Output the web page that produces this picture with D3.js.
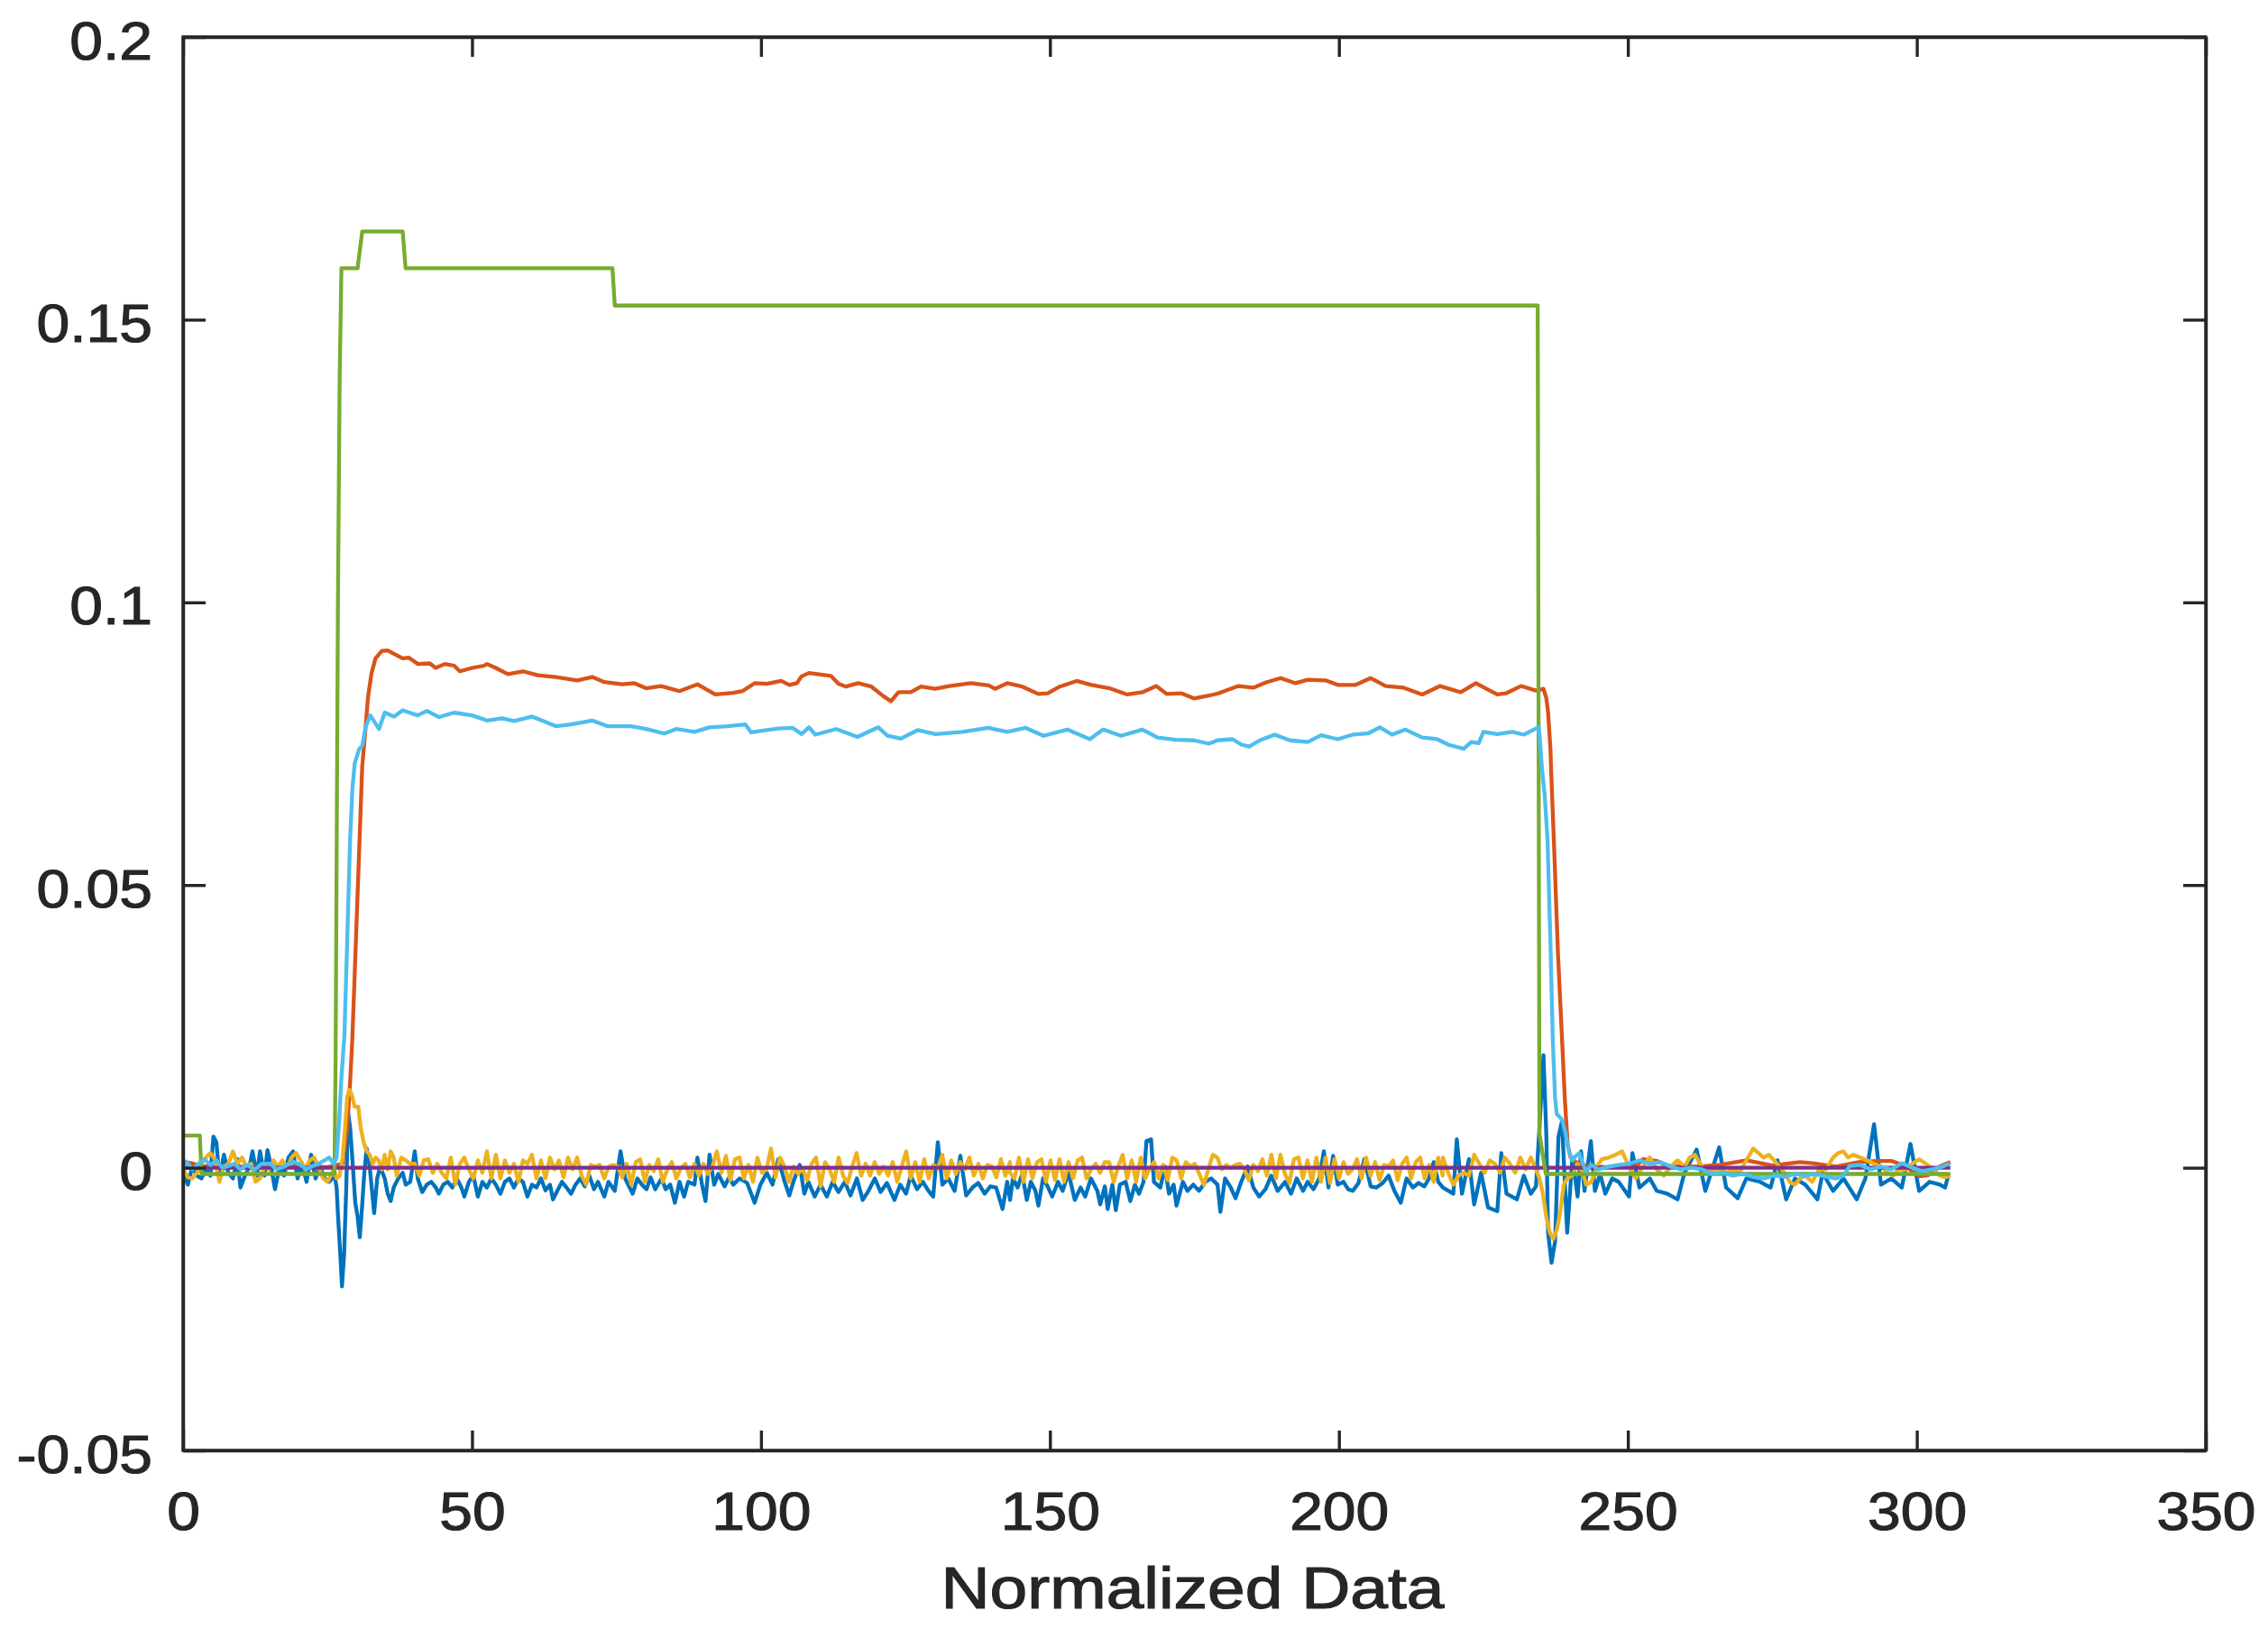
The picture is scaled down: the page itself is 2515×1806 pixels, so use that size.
<!DOCTYPE html>
<html>
<head>
<meta charset="utf-8">
<script src="https://cdn.jsdelivr.net/npm/d3@7"></script>
<style>
  html, body { margin: 0; padding: 0; background: #ffffff; }
  svg { display: block; }
</style>
</head>
<body>
<div id="chart"></div>
<script>
// ---------------- DATA ----------------
const xTicks = [0, 50, 100, 150, 200, 250, 300, 350];
const xTickLabels = ["0", "50", "100", "150", "200", "250", "300", "350"];
const yTicks = [-0.05, 0, 0.05, 0.1, 0.15, 0.2];
const yTickLabels = ["-0.05", "0", "0.05", "0.1", "0.15", "0.2"];
const xLabel = "Normalized Data";

// series 1 (blue) : [x, value]
const blueEarly = [[0.05,-0.0009],[0.83,-0.0030],[1.61,0.0002],[2.39,-0.0014],[3.17,-0.0019],[3.95,-0.0003],[4.73,-0.0014],[5.25,0.0055],[5.77,0.0045],[6.29,-0.0019],[7.07,0.0023],[7.85,-0.0009],[8.63,-0.0019],[9.41,0.0015],[9.93,-0.0035],[10.71,-0.0014],[11.49,0.0002],[12.01,0.0029],[12.79,-0.0014],[13.31,0.0029],[14.09,-0.0014],[14.61,0.0031],[15.13,0.0007],[15.91,-0.0038],[16.69,0.0002],[17.47,-0.0014],[18.25,0.0018],[19.03,0.0029],[19.81,-0.0019],[20.59,0.0007],[21.37,-0.0025],[22.15,0.0023],[22.93,-0.0019],[23.71,0.0002],[24.49,-0.0019],[25.27,-0.0025],[25.79,-0.0019],[26.31,-0.0019],[26.57,-0.0035],[26.83,-0.0088],[27.2,-0.0152],[27.5,-0.0210],[27.87,-0.0152],[28.24,-0.0035],[28.55,0.0098],[28.91,0.0071],[29.28,0.0018],[29.80,-0.0062],[30.22,-0.0088],[30.58,-0.0123],[30.99,-0.0067],[31.36,-0.0009],[31.77,0.0034],[32.29,0.0002],[33.07,-0.0080],[33.59,-0.0019],[34.11,0.0002],[34.89,-0.0019],[35.41,-0.0046],[35.93,-0.0059],[36.45,-0.0035],[37.23,-0.0019],[38.01,-0.0009],[38.53,-0.0030],[39.31,-0.0025],[40.09,0.0029],[40.61,-0.0019],[41.39,-0.0043],[42.17,-0.0030],[42.95,-0.0025],[43.73,-0.0035],[44.25,-0.0046],[45.03,-0.0030],[45.81,-0.0025],[46.59,-0.0035],[47.37,-0.0019],[48.15,-0.0035],[48.67,-0.0051],[49.45,-0.0025],[50.23,-0.0014],[51.01,-0.0051],[51.79,-0.0025],[52.57,-0.0035],[53.35,-0.0019],[54.13,-0.0030],[54.91,-0.0046],[55.69,-0.0025],[56.47,-0.0019],[57.25,-0.0035],[58.03,-0.0019],[58.81,-0.0025],[59.59,-0.0051],[60.37,-0.0030],[61.15,-0.0035],[61.93,-0.0019],[62.71,-0.0040],[63.49,-0.0030],[64.01,-0.0056],[64.79,-0.0040],[65.57,-0.0025],[66.35,-0.0035],[67.13,-0.0046],[67.91,-0.0030]];
const blueMid1 = [[68.7,-0.0019],[69.5,-0.0033],[70.3,-0.0014],[71.1,-0.0038],[71.8,-0.0025],[72.9,-0.0051],[73.6,-0.0025],[74.7,-0.0041],[75.7,0.0029],[76.5,-0.0019],[77.8,-0.0046],[78.6,-0.0019],[79.4,-0.0030],[80.2,-0.0038],[80.9,-0.0017],[81.7,-0.0038],[82.8,-0.0019],[83.5,-0.0038],[84.3,-0.0030],[85.1,-0.0062],[85.9,-0.0025],[86.7,-0.0051],[87.4,-0.0025],[88.5,-0.0030],[89.0,0.0018],[89.8,-0.0030],[90.4,-0.0059],[91.1,0.0023],[91.9,-0.0030],[92.6,-0.0011],[93.7,-0.0033],[94.5,-0.0017],[95.2,-0.0030],[96.3,-0.0019],[97.6,-0.0027],[98.9,-0.0062],[99.9,-0.0030],[101.0,-0.0009],[102.0,-0.0030],[103.0,0.0015],[104.1,-0.0025],[104.9,-0.0049],[105.6,-0.0025],[106.7,0.0005],[107.5,-0.0046],[108.2,-0.0025],[109.3,-0.0051],[110.3,-0.0030],[111.4,-0.0051],[112.4,-0.0025],[113.4,-0.0043],[114.5,-0.0025],[115.5,-0.0049],[116.6,-0.0019],[117.6,-0.0057],[118.6,-0.0041],[119.7,-0.0019],[120.7,-0.0043],[121.8,-0.0027],[123.1,-0.0057],[124.1,-0.0030],[125.1,-0.0046],[125.9,-0.0014],[127.0,-0.0038],[128.0,-0.0025],[129.0,-0.0041],[129.8,-0.0051],[130.6,0.0045],[131.4,-0.0030],[132.4,-0.0019],[133.5,-0.0041],[134.5,0.0021],[135.5,-0.0049],[136.6,-0.0035],[137.6,-0.0027],[138.7,-0.0046],[139.7,-0.0033],[140.7,-0.0035],[141.8,-0.0073],[142.6,-0.0025],[143.1,-0.0057]];
const blueMid2 = [[143.6,-0.0019],[144.4,-0.0035],[145.2,-0.0011],[146.0,-0.0057],[146.7,-0.0025],[147.5,-0.0041],[148.0,-0.0067],[148.8,-0.0019],[149.6,-0.0033],[150.4,-0.0051],[151.4,-0.0025],[152.2,-0.0041],[153.2,-0.0009],[154.3,-0.0057],[155.3,-0.0035],[156.1,-0.0051],[157.1,-0.0019],[158.2,-0.0041],[158.7,-0.0065],[159.5,-0.0033],[160.0,-0.0073],[160.8,-0.0030],[161.4,-0.0075],[162.1,-0.0030],[163.1,-0.0025],[163.9,-0.0059],[164.7,-0.0030],[165.4,-0.0046],[166.2,-0.0025],[166.7,0.0047],[167.5,0.0050],[168.0,-0.0025],[169.1,-0.0035],[169.9,0.0002],[170.6,-0.0046],[171.4,-0.0030],[171.9,-0.0067],[173.0,-0.0025],[173.8,-0.0041],[174.8,-0.0030],[175.8,-0.0041],[176.9,-0.0025],[177.9,-0.0019],[179.0,-0.0030],[179.5,-0.0078],[180.3,-0.0019],[181.3,-0.0035],[182.1,-0.0054],[183.1,-0.0025],[184.2,0.0002],[185.2,-0.0035],[186.2,-0.0051],[187.3,-0.0038],[188.3,-0.0014],[189.4,-0.0041],[190.7,-0.0025],[191.7,-0.0046],[192.7,-0.0019],[193.8,-0.0041],[194.6,-0.0025],[195.6,-0.0038],[196.6,-0.0019],[197.4,0.0029],[198.2,-0.0035],[199.0,0.0021],[199.8,-0.0030],[200.8,-0.0025],[201.6,-0.0038],[202.4,-0.0041],[203.4,-0.0027],[204.4,0.0015],[205.5,-0.0033],[206.5,-0.0035],[207.6,-0.0027],[208.6,-0.0014],[209.6,-0.0041],[210.7,-0.0062],[211.7,-0.0019],[212.8,-0.0035],[213.8,-0.0027],[214.8,-0.0033],[215.6,-0.0019],[216.4,0.0010],[217.2,-0.0025]];
const blueLate = [[218.0,-0.0035],[219.8,-0.0046],[220.4,0.0050],[221.3,-0.0046],[222.5,0.0015],[223.4,-0.0065],[224.6,-0.0009],[225.8,-0.0070],[227.4,-0.0077],[228.1,0.0026],[229.0,-0.0046],[230.8,-0.0056],[232.0,-0.0014],[233.2,-0.0046],[234.1,-0.0033],[234.7,0.0071],[235.4,0.0199],[235.9,0.0055],[236.2,-0.0115],[236.8,-0.0168],[237.4,-0.0131],[238.0,0.0055],[238.6,0.0082],[239.5,-0.0115],[240.4,0.0018],[241.3,-0.0051],[241.9,0.0029],[242.5,-0.0041],[243.6,0.0047],[244.3,-0.0041],[245.2,-0.0011],[246.1,-0.0046],[247.3,-0.0019],[248.4,-0.0025],[250.2,-0.0051],[250.8,0.0026],[252.0,-0.0035],[253.8,-0.0019],[255.0,-0.0041],[256.8,-0.0046],[258.6,-0.0056],[259.8,-0.0009],[261.9,0.0032],[263.4,-0.0041],[265.8,0.0036],[267.0,-0.0035],[269.0,-0.0054],[270.5,-0.0019],[272.9,-0.0025],[274.7,-0.0035],[275.9,0.0013],[277.4,-0.0056],[278.9,-0.0019],[280.7,-0.0030],[282.8,-0.0056],[283.7,-0.0009],[285.5,-0.0041],[287.3,-0.0019],[289.6,-0.0056],[291.1,-0.0019],[292.6,0.0077],[293.8,-0.0030],[295.6,-0.0019],[297.4,-0.0035],[298.9,0.0042],[300.4,-0.0041],[302.2,-0.0025],[304.0,-0.0030],[304.9,-0.0035],[305.5,-0.0011]];

// series 2 (orange)
const orangePts = [[0,0.0010],[1.5,0.0008],[3,0.0003],[6,0.0001],[10,0.0002],[15,0.0001],[20,0.0002],[25,0.0001],[27.6,0.0007],[28.4,0.007],[28.9,0.015],[29.3,0.023],[31.0,0.071],[31.5,0.0768],[32.0,0.0832],[32.6,0.0874],[33.3,0.0901],[34.4,0.0914],[35.4,0.0915],[36.5,0.0909],[38.0,0.0901],[39.1,0.0902],[40.6,0.0891],[42.7,0.0892],[43.7,0.0884],[45.3,0.0891],[46.9,0.0888],[47.9,0.0878],[50.0,0.0884],[52.1,0.0888],[52.6,0.0891],[54.1,0.0884],[56.2,0.0873],[58.8,0.0878],[61.4,0.0871],[64.5,0.0868],[68.2,0.0862],[70.8,0.0868],[72.9,0.0859],[76.0,0.0855],[78.1,0.0857],[80.1,0.0848],[82.7,0.0852],[85.9,0.0843],[89.0,0.0855],[92.1,0.0837],[95.2,0.0840],[96.8,0.0843],[98.9,0.0857],[101.0,0.0856],[103.5,0.0861],[104.9,0.0854],[106.2,0.0857],[107.0,0.0869],[108.3,0.0875],[112.1,0.0870],[113.4,0.0856],[114.7,0.0851],[116.8,0.0857],[119.1,0.0851],[121.2,0.0834],[122.5,0.0825],[123.8,0.0841],[125.9,0.0841],[127.7,0.0851],[130.1,0.0847],[132.6,0.0852],[136.3,0.0857],[139.4,0.0853],[140.5,0.0847],[142.6,0.0857],[145.2,0.0851],[148.0,0.0838],[149.6,0.0839],[151.7,0.0851],[154.6,0.0861],[157.2,0.0854],[160.3,0.0848],[163.4,0.0837],[166.0,0.0841],[168.4,0.0852],[170.2,0.0838],[172.8,0.0839],[174.9,0.0830],[177.5,0.0835],[179.1,0.0839],[182.6,0.0852],[185.2,0.0849],[187.3,0.0858],[189.9,0.0866],[192.5,0.0857],[194.6,0.0863],[197.7,0.0862],[199.8,0.0854],[202.9,0.0854],[205.5,0.0866],[208.1,0.0852],[211.2,0.0849],[214.4,0.0837],[217.5,0.0852],[221.1,0.0841],[223.7,0.0857],[227.4,0.0837],[228.9,0.0839],[231.5,0.0852],[234.1,0.0844],[235.4,0.0847],[235.9,0.0830],[236.2,0.0805],[236.6,0.0741],[236.7,0.071],[237.3,0.055],[237.9,0.038],[238.6,0.023],[239.1,0.012],[239.6,0.004],[240.1,0.0018],[241,0.0010],[243,0.0003],[246,0.0001],[251.4,0.0002],[252.6,0.0015],[255.0,0.0012],[257,0.0003],[262,0.0002],[266,0.0005],[270.5,0.0013],[275,0.0004],[279.8,0.0010],[282,0.0008],[286,0.0002],[290,0.0010],[293,0.0012],[295.6,0.0012],[298,0.0003],[300.4,-0.0015],[302,-0.0013],[304,0.0002],[305.8,0.0010]];

// series 3 (yellow)
const yellowEarly = [[0.05,-0.0003],[0.83,-0.0017],[1.61,-0.0019],[2.39,-0.0009],[3.17,0.0007],[3.95,0.0018],[4.73,0.0026],[5.51,0.0015],[6.29,-0.0025],[7.07,0.0002],[7.85,0.0007],[8.63,0.0029],[9.41,0.0007],[10.19,0.0018],[10.97,0.0002],[11.75,0.0007],[12.53,-0.0025],[13.31,-0.0019],[14.09,0.0002],[14.87,-0.0003],[15.65,0.0013],[16.43,0.0002],[17.21,0.0013],[17.99,-0.0001],[18.77,0.0018],[19.55,0.0026],[20.33,0.0013],[21.11,-0.0003],[21.89,0.0013],[22.67,0.0018],[23.45,0.0002],[24.23,-0.0019],[25.01,-0.0025],[25.53,-0.0014],[26.05,-0.0003],[26.57,-0.0019],[27.09,-0.0014],[27.61,0.0018],[28.03,0.0071],[28.39,0.0124],[28.76,0.0138],[29.17,0.0130],[29.69,0.0108],[30.32,0.0108],[30.73,0.0071],[31.25,0.0045],[31.77,0.0029],[32.29,0.0023],[32.81,0.0007],[33.33,0.0018],[33.85,0.0013],[34.37,-0.0003],[34.89,0.0023],[35.41,-0.0003],[35.93,0.0029],[36.45,0.0018],[36.97,-0.0014],[37.75,0.0018],[38.53,0.0013],[39.31,0.0007],[40.09,0.0007],[40.87,-0.0014],[41.65,0.0013],[42.43,0.0015],[43.21,-0.0009],[43.99,0.0007],[44.77,-0.0009],[45.55,-0.0019],[46.33,0.0018],[47.11,-0.0030],[47.89,0.0007],[48.67,0.0018],[49.45,-0.0003],[50.23,-0.0019],[51.01,0.0013],[51.79,-0.0009],[52.57,0.0029],[53.35,-0.0019],[54.13,0.0023],[54.91,-0.0019],[55.69,0.0013],[56.47,-0.0009],[57.25,0.0007],[58.03,-0.0025],[58.81,0.0013],[59.59,0.0007],[60.37,0.0023],[61.15,-0.0019],[61.93,0.0013],[62.71,-0.0019],[63.49,0.0018],[64.27,-0.0003],[65.05,0.0013],[65.83,-0.0017],[66.61,0.0018],[67.39,-0.0003]];
const yellowMid1Start = 68.19, yellowMid2Start = 143.08, yellowMidStep = 0.78;
const yellowMid1 = [0.0018,-0.0014,-0.0030,0.0005,0.0002,0.0005,-0.0019,0.0002,0.0005,0.0002,-0.0017,0.0007,-0.0030,0.0010,0.0015,-0.0025,0.0005,-0.0006,0.0015,-0.0025,-0.0003,0.0010,-0.0019,-0.0001,0.0007,-0.0017,0.0007,-0.0014,0.0007,-0.0011,0.0002,0.0029,-0.0009,0.0021,-0.0022,0.0015,0.0018,-0.0019,0.0005,-0.0025,0.0018,-0.0009,-0.0003,0.0034,-0.0017,0.0018,0.0002,-0.0025,0.0002,-0.0011,-0.0001,-0.0022,0.0007,0.0018,-0.0033,0.0010,-0.0003,-0.0025,0.0018,-0.0014,-0.0027,0.0002,0.0026,-0.0014,0.0007,-0.0014,0.0010,-0.0011,0.0002,-0.0014,0.0010,-0.0025,0.0002,0.0029,-0.0019,0.0010,-0.0025,0.0015,-0.0019,0.0005,-0.0001,0.0023,-0.0019,0.0013,-0.0011,0.0010,-0.0003,0.0018,-0.0014,0.0007,-0.0019,0.0005,0.0002,-0.0017,0.0015,-0.0014,0.0010];
const yellowMid2 = [-0.0009,-0.0019,0.0018,-0.0025,0.0015,-0.0019,0.0010,0.0015,-0.0025,0.0013,-0.0022,0.0015,-0.0025,0.0010,-0.0019,0.0013,0.0018,-0.0019,-0.0003,0.0007,-0.0009,0.0010,0.0010,-0.0025,0.0002,0.0023,-0.0019,0.0013,-0.0025,0.0018,-0.0019,-0.0001,0.0010,-0.0019,0.0005,-0.0022,0.0018,0.0013,-0.0019,0.0010,0.0002,0.0007,-0.0011,-0.0030,-0.0003,0.0023,0.0018,-0.0003,0.0005,-0.0001,0.0005,0.0007,-0.0003,-0.0022,0.0005,-0.0006,0.0015,-0.0014,0.0023,-0.0019,0.0023,-0.0011,-0.0027,0.0015,0.0018,-0.0019,0.0013,-0.0025,0.0018,-0.0025,0.0018,-0.0027,0.0015,-0.0019,0.0010,-0.0011,-0.0003,0.0015,-0.0019,0.0018,-0.0014,0.0010,-0.0022,0.0005,0.0002,0.0013,-0.0022,0.0007,0.0018,-0.0019,0.0010,0.0018,-0.0019,0.0005,-0.0025,0.0018,-0.0014];
const yellowLate = [[218.0,0.0018],[218.9,-0.0009],[219.8,-0.0030],[220.7,-0.0014],[221.6,-0.0009],[222.5,-0.0014],[223.4,0.0023],[224.3,0.0007],[225.2,-0.0009],[226.1,0.0013],[227.0,0.0007],[227.9,-0.0009],[228.7,0.0018],[229.6,0.0007],[230.5,-0.0009],[231.4,0.0018],[232.3,-0.0003],[233.2,0.0018],[234.1,-0.0003],[234.7,-0.0019],[235.3,-0.0046],[235.9,-0.0088],[236.5,-0.0115],[237.1,-0.0126],[237.7,-0.0110],[238.3,-0.0078],[238.9,-0.0030],[239.5,-0.0019],[240.4,-0.0014],[241.3,0.0007],[242.2,-0.0009],[242.8,-0.0030],[243.7,-0.0025],[244.6,0.0002],[245.5,0.0015],[246.7,0.0018],[247.9,0.0023],[249.0,0.0029],[250.2,0.0002],[251.4,-0.0019],[252.6,0.0002],[253.8,0.0018],[255.0,-0.0003],[256.2,-0.0014],[257.4,0.0002],[258.6,0.0013],[259.8,0.0002],[260.7,0.0018],[261.6,0.0023],[262.5,0.0007],[263.4,-0.0003],[264.6,-0.0003],[265.8,-0.0003],[267.0,-0.0009],[268.1,-0.0003],[269.3,-0.0009],[270.5,0.0013],[271.7,0.0034],[272.6,0.0026],[273.5,0.0018],[274.4,0.0023],[275.3,0.0013],[276.2,0.0002],[277.1,-0.0009],[278.0,-0.0025],[278.9,-0.0030],[279.8,-0.0019],[280.7,-0.0014],[281.9,-0.0025],[283.1,-0.0003],[284.3,-0.0003],[285.5,0.0018],[286.4,0.0026],[287.3,0.0029],[288.1,0.0018],[289.0,0.0023],[290.2,0.0018],[291.4,0.0013],[292.6,0.0007],[293.8,0.0002],[295.0,-0.0009],[295.9,-0.0014],[296.8,-0.0003],[298.0,-0.0003],[299.2,0.0007],[300.4,0.0015],[301.6,0.0007],[302.8,-0.0003],[304.0,-0.0014],[304.9,-0.0017],[305.8,-0.0014]];

// series 4 (purple)
const purplePts = [[0,0],[305.8,0]];

// series 5 (green)
const greenPts = [[0,0.0057],[2.9,0.0057],[3.2,-0.0011],[26.2,-0.0011],[26.4,0.020],[26.8,0.100],[27.1,0.140],[27.4,0.1591],[30.2,0.1591],[31.0,0.1656],[38.0,0.1656],[38.5,0.1591],[74.3,0.1591],[74.7,0.1525],[234.4,0.1525],[234.7,0.006],[235.8,-0.0011],[305.8,-0.0011]];

// series 6 (light blue)
const cyanPts = [[0.05,0.0000],[0.57,0.0011],[1.61,-0.0003],[2.65,0.0007],[3.69,0.0015],[4.73,0.0005],[5.77,0.0013],[6.81,0.0000],[7.85,0.0003],[8.89,0.0007],[9.93,-0.0003],[10.97,0.0005],[12.53,-0.0003],[13.57,0.0007],[15.13,0.0007],[16.17,-0.0003],[17.73,0.0003],[19.03,0.0011],[20.33,0.0005],[21.37,-0.0003],[22.41,0.0003],[23.45,0.0007],[24.49,0.0013],[25.27,0.0018],[26.05,0.0007],[26.57,0.0018],[27.0,0.008],[27.4,0.016],[27.9,0.023],[28.4,0.040],[28.9,0.058],[29.3,0.067],[29.7,0.0715],[30.5,0.0741],[31.0,0.0746],[31.6,0.0780],[32.4,0.0800],[33.9,0.0776],[34.9,0.0805],[36.5,0.0798],[38.0,0.0809],[40.6,0.0800],[42.2,0.0808],[44.3,0.0797],[46.9,0.0805],[50.0,0.0800],[52.6,0.0791],[55.2,0.0795],[57.3,0.0790],[60.4,0.0798],[64.5,0.0781],[67.1,0.0784],[70.8,0.0791],[73.4,0.0781],[77.5,0.0781],[80.1,0.0776],[83.3,0.0768],[85.3,0.0776],[88.5,0.0771],[91.1,0.0779],[94.2,0.0781],[97.3,0.0784],[98.3,0.0770],[101.0,0.0774],[103.1,0.0777],[105.5,0.0778],[107.0,0.0767],[108.3,0.0779],[109.4,0.0766],[113.0,0.0776],[116.7,0.0762],[120.3,0.0779],[121.9,0.0764],[124.2,0.0759],[127.1,0.0774],[130.2,0.0767],[134.9,0.0771],[139.3,0.0778],[142.6,0.0771],[145.8,0.0778],[148.9,0.0764],[153.0,0.0775],[156.9,0.0758],[159.2,0.0775],[162.3,0.0764],[166.0,0.0775],[168.6,0.0761],[171.7,0.0757],[174.9,0.0756],[177.5,0.0750],[179.0,0.0756],[181.6,0.0758],[183.2,0.0748],[184.5,0.0745],[186.3,0.0756],[188.9,0.0766],[191.5,0.0756],[194.6,0.0753],[196.9,0.0765],[199.8,0.0758],[202.4,0.0766],[205.0,0.0768],[207.1,0.0779],[209.2,0.0766],[211.5,0.0775],[214.4,0.0761],[217.0,0.0758],[219.0,0.0748],[221.6,0.0741],[222.9,0.0753],[224.2,0.0751],[225.0,0.0771],[227.4,0.0767],[230.0,0.0771],[232.0,0.0766],[234.1,0.0777],[234.6,0.0779],[234.9,0.0741],[235.1,0.0710],[235.6,0.066],[236.1,0.058],[236.6,0.040],[237.0,0.023],[237.4,0.0124],[237.7,0.0095],[238.6,0.0085],[239.2,0.0061],[239.8,0.0029],[240.4,0.0013],[241.0,0.0021],[241.6,0.0026],[242.2,0.0007],[242.8,-0.0006],[243.7,0.0005],[244.9,-0.0003],[246.7,0.0002],[248.5,0.0005],[250.2,0.0007],[252.0,0.0013],[253.8,0.0007],[255.6,0.0010],[257.4,0.0002],[259.2,-0.0003],[261.0,0.0000],[262.8,-0.0003],[264.6,-0.0011],[266.4,-0.0008],[268.1,-0.0014],[269.9,-0.0011],[271.7,-0.0016],[273.5,-0.0019],[275.3,-0.0014],[277.1,-0.0016],[278.9,-0.0011],[280.7,-0.0014],[282.5,-0.0011],[284.3,-0.0016],[286.1,-0.0019],[287.3,-0.0014],[288.4,0.0003],[290.2,0.0005],[292.0,-0.0003],[293.8,0.0002],[295.6,-0.0003],[297.4,0.0008],[299.2,0.0000],[300.9,-0.0006],[302.7,-0.0003],[304.5,0.0002],[305.7,0.0008]];

// ---------------- LAYOUT ----------------
const W = 2515, H = 1806;
const plotLeft = 203, plotRight = 2446, plotTop = 41, plotBottom = 1608;
const axisColor = "#262626";
const fontFamily = "'Liberation Sans', Arial, Helvetica, sans-serif";

const svg = d3.select("#chart").append("svg")
  .attr("width", W).attr("height", H)
  .attr("viewBox", `0 0 ${W} ${H}`);
svg.append("rect").attr("width", W).attr("height", H).attr("fill", "#ffffff");

const x = d3.scaleLinear().domain([0, 350]).range([plotLeft, plotRight]);
const y = d3.scaleLinear().domain([-0.05, 0.2]).range([plotBottom, plotTop]);

const yellowPts = yellowEarly
  .concat(yellowMid1.map((v, i) => [yellowMid1Start + i * yellowMidStep, v]))
  .concat(yellowMid2.map((v, i) => [yellowMid2Start + i * yellowMidStep, v]))
  .concat(yellowLate);

const series = [
  { color: "#0072BD", pts: blueEarly.concat(blueMid1, blueMid2, blueLate) },
  { color: "#D95319", pts: orangePts },
  { color: "#EDB120", pts: yellowPts },
  { color: "#7E2F8E", pts: purplePts },
  { color: "#77AC30", pts: greenPts },
  { color: "#4DBEEE", pts: cyanPts }
];

const line = d3.line().x(d => x(d[0])).y(d => y(d[1]));

svg.append("defs").append("clipPath").attr("id", "clip")
  .append("rect").attr("x", plotLeft).attr("y", plotTop)
  .attr("width", plotRight - plotLeft).attr("height", plotBottom - plotTop);

const gData = svg.append("g").attr("clip-path", "url(#clip)");
gData.selectAll("path").data(series).join("path")
  .attr("d", d => line(d.pts))
  .attr("fill", "none")
  .attr("stroke", d => d.color)
  .attr("stroke-width", 4.3)
  .attr("stroke-linejoin", "round")
  .attr("stroke-linecap", "butt");

// ---------------- AXES ----------------
function styleAxis(g) {
  g.attr("color", axisColor)
   .attr("font-family", fontFamily)
   .attr("font-size", 60);
  g.selectAll("line").attr("stroke-width", 3.4);
  g.selectAll(".domain").attr("stroke-width", 3.4);
  g.selectAll("text").attr("fill", axisColor)
   .attr("stroke", axisColor).attr("stroke-width", 1.1);
}

const gBottom = svg.append("g")
  .attr("transform", `translate(0,${plotBottom})`)
  .call(d3.axisBottom(x).tickValues(xTicks).tickFormat((d, i) => xTickLabels[i])
    .tickSizeInner(-22).tickSizeOuter(0).tickPadding(45));
styleAxis(gBottom);

const gTop = svg.append("g")
  .attr("transform", `translate(0,${plotTop})`)
  .call(d3.axisTop(x).tickValues(xTicks).tickFormat(() => "")
    .tickSizeInner(-22).tickSizeOuter(0));
styleAxis(gTop);

const gLeft = svg.append("g")
  .attr("transform", `translate(${plotLeft},0)`)
  .call(d3.axisLeft(y).tickValues(yTicks).tickFormat((d, i) => yTickLabels[i])
    .tickSizeInner(-25).tickSizeOuter(0).tickPadding(34));
styleAxis(gLeft);
gLeft.selectAll("text").attr("dy", "0.4em");

const gRight = svg.append("g")
  .attr("transform", `translate(${plotRight},0)`)
  .call(d3.axisRight(y).tickValues(yTicks).tickFormat(() => "")
    .tickSizeInner(-25).tickSizeOuter(0));
styleAxis(gRight);

// widen tick labels slightly to match the reference glyph proportions
svg.selectAll(".tick text").each(function () {
  const t = d3.select(this);
  if (!t.text()) return;
  const w = this.getComputedTextLength();
  t.attr("textLength", (w * 1.1).toFixed(1)).attr("lengthAdjust", "spacingAndGlyphs");
});

// axes box
svg.append("rect")
  .attr("x", plotLeft).attr("y", plotTop)
  .attr("width", plotRight - plotLeft).attr("height", plotBottom - plotTop)
  .attr("fill", "none").attr("stroke", axisColor).attr("stroke-width", 3.4);

// x label
svg.append("text")
  .attr("x", (plotLeft + plotRight) / 2 - 2)
  .attr("y", 1783)
  .attr("text-anchor", "middle")
  .attr("font-family", fontFamily)
  .attr("font-size", 65)
  .attr("fill", axisColor)
  .attr("stroke", axisColor)
  .attr("stroke-width", 1.2)
  .attr("textLength", 558)
  .attr("lengthAdjust", "spacingAndGlyphs")
  .text(xLabel);
</script>
</body>
</html>
